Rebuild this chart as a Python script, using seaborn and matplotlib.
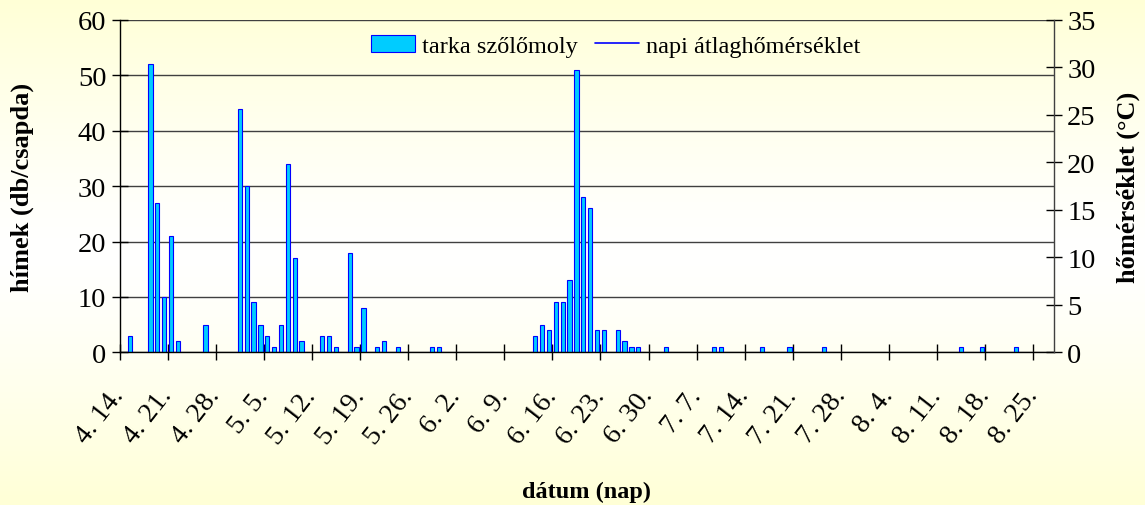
import numpy as np
import pandas as pd
import matplotlib
matplotlib.use("Agg")
import matplotlib.pyplot as plt
from matplotlib.patches import Patch
from matplotlib.lines import Line2D
import seaborn as sns

# fogási napok (hónap, nap) és a hímek száma (db/csapda)
fogas_datum = [
    (4, 15), (4, 18), (4, 19), (4, 20), (4, 21), (4, 22), (4, 26),
    (5, 1), (5, 2), (5, 3), (5, 4), (5, 5), (5, 6), (5, 7), (5, 8), (5, 9), (5, 10),
    (5, 13), (5, 14), (5, 15), (5, 17), (5, 18), (5, 19), (5, 21), (5, 22), (5, 24),
    (5, 29), (5, 30),
    (6, 13), (6, 14), (6, 15), (6, 16), (6, 17), (6, 18), (6, 19), (6, 20), (6, 21),
    (6, 22), (6, 23), (6, 25), (6, 26), (6, 27), (6, 28),
    (7, 2), (7, 9), (7, 10), (7, 16), (7, 20), (7, 25),
    (8, 14), (8, 17), (8, 22),
]
himek = [
    3, 52, 27, 10, 21, 2, 5,
    44, 30, 9, 5, 3, 1, 5, 34, 17, 2,
    3, 3, 1, 18, 1, 8, 1, 2, 1,
    1, 1,
    3, 5, 4, 9, 9, 13, 51, 28, 26,
    4, 4, 4, 2, 1, 1,
    1, 1, 1, 1, 1, 1,
    1, 1, 1,
]

# a vizsgálati időszak: 4.14. - 8.27.
napok = pd.date_range("2000-04-14", "2000-08-27", freq="D")
nap_cimke = [f"{d.month}. {d.day}." for d in napok]

sor = {f"{m}. {d}.": v for (m, d), v in zip(fogas_datum, himek)}
df = pd.DataFrame({"nap": list(sor.keys()), "db": list(sor.values())})

sns.set_theme(style="white")
plt.rcParams["font.family"] = ["Liberation Serif", "DejaVu Serif"]
plt.rcParams.update({"text.color": "black", "axes.labelcolor": "black",
                     "xtick.color": "black", "ytick.color": "black"})

fig = plt.figure(figsize=(11.45, 5.06), dpi=100)

# háttér színátmenet (sárgás - fehér - sárgás)
bg = fig.add_axes([0, 0, 1, 1], zorder=-10)
t = np.linspace(0, 1, 256)
w = np.clip(np.abs(t - 0.5) * 2, 0, 1) ** 1.3
top = np.array([1.0, 1.0, 0.84])
white = np.array([1.0, 1.0, 1.0])
grad = white[None, :] * (1 - w[:, None]) + top[None, :] * w[:, None]
bg.imshow(grad[:, None, :], aspect="auto", extent=[0, 1, 0, 1])
bg.axis("off")

ax = fig.add_axes([0.1044, 0.3018, 0.8161, 0.6567])
ax.set_facecolor("none")

sns.barplot(data=df, x="nap", y="db", order=nap_cimke, color="#00CCFF",
            saturation=1, width=0.62, edgecolor="#0000FF", linewidth=0.8, ax=ax)

ax.set_xlim(-0.5, len(napok) - 0.5)
ax.set_ylim(0, 60)
ax.set_yticks(range(0, 61, 10))
ax.set_xticks(np.arange(0, len(napok) - 1, 7) - 0.5)
ax.set_xticklabels(nap_cimke[0:len(napok) - 1:7])
ax.yaxis.grid(True, color="#404040", linewidth=1)
ax.set_axisbelow(True)

ax.tick_params(axis="both", direction="inout", length=12, width=1, color="black",
               labelsize=20.5, bottom=True, left=True)
ax.tick_params(axis="x", pad=22, labelsize=20)
plt.setp(ax.get_xticklabels(), rotation=52, ha="right", va="center",
         rotation_mode="anchor")

for s in ["top", "right"]:
    ax.spines[s].set_visible(False)
for s in ["left", "bottom"]:
    ax.spines[s].set_color("black")
    ax.spines[s].set_linewidth(1)

ax.set_xlabel("dátum (nap)", fontsize=17.5, fontweight="bold", va="center")
ax.xaxis.set_label_coords(0.5, -0.418)
ax.set_ylabel("hímek (db/csapda)", fontsize=19, fontweight="bold", va="center")
ax.yaxis.set_label_coords(-0.104, 0.5)

ax2 = ax.twinx()
ax2.set_ylim(0, 35)
ax2.set_yticks(range(0, 36, 5))
ax2.tick_params(axis="y", direction="inout", length=12, width=1, color="black",
                labelsize=20.5, right=True)
for s in ["top", "left", "bottom"]:
    ax2.spines[s].set_visible(False)
ax2.spines["right"].set_color("#404040")
ax2.spines["right"].set_linewidth(1)
ax2.set_ylabel("hőmérséklet (°C)", fontsize=19, fontweight="bold", va="center")
ax2.yaxis.set_label_coords(1.079, 0.5)

handles = [
    Patch(facecolor="#00CCFF", edgecolor="#0000FF", linewidth=0.8),
    Line2D([], [], color="#0000FF", linewidth=1.2),
]
ax.legend(handles, ["tarka szőlőmoly", "napi átlaghőmérséklet"], ncol=2,
          loc="center", bbox_to_anchor=(0.531, 0.922), frameon=False,
          fontsize=17.5, handlelength=1.8, handleheight=0.7, columnspacing=0.7,
          handletextpad=0.3)

fig.savefig("out.png", dpi=100)
